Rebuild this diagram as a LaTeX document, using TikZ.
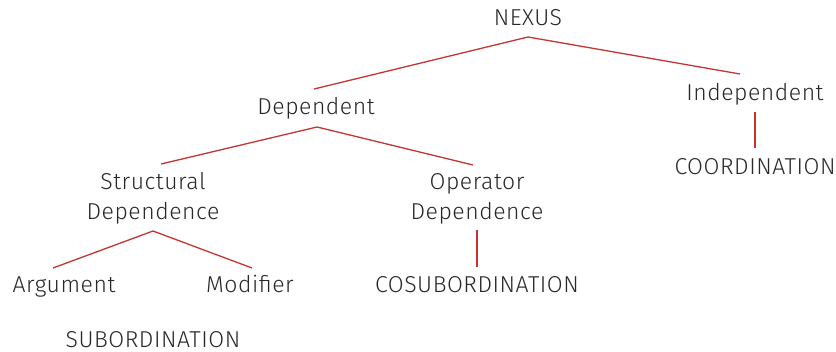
\documentclass[tikz,border=0pt]{standalone}
\usepackage{fontspec}
\setmainfont[LetterSpace=2.3]{Fira Sans Light}
\usetikzlibrary{calc}

\definecolor{linkred}{RGB}{196,52,48}
\definecolor{labelgray}{RGB}{40,40,40}

\tikzset{
  label/.style={font=\fontsize{23}{30}\selectfont,text=labelgray,inner sep=0pt,anchor=base,align=center},
  link/.style={draw=linkred,line width=1.3pt}
}

\begin{document}
\begin{tikzpicture}[x=1pt,y=-1pt]
\useasboundingbox (0,0) rectangle (836,352);
% levels of the tree
\node[label] (nexus) at (528,26) {NEXUS};
\node[label] (dep) at (316,115) {Dependent};
\node[label] (indep) at (755,101) {Independent};
\node[label] (coord) at (755,175) {COORDINATION};
\node[label] (struct) at (153,220) {Structural\\Dependence};
\node[label] (oper) at (477,220) {Operator\\Dependence};
\node[label] (cosub) at (477,293) {COSUBORDINATION};
\node[label] (arg) at (64,293) {Argument};
\node[label] (mod) at (250,293) {Modifier};
\node[label] (subord) at (153,348) {SUBORDINATION};

% branches
\draw[link] ($(nexus.base)+(0,11)$) -- ($(dep.base)+(-2,-26)$);
\draw[link] ($(nexus.base)+(0,11)$) -- ($(indep.base)+(-15,-27)$);
\draw[link] ($(indep.base)+(0,11)$) -- ($(coord.base)+(0,-27)$);
\draw[link] ($(dep.base)+(1,12)$) -- ($(struct.base)+(8,-56)$);
\draw[link] ($(dep.base)+(1,12)$) -- ($(oper.base)+(-4,-55)$);
\draw[link] ($(oper.base)+(0,10)$) -- ($(cosub.base)+(0,-26)$);
\draw[link] ($(struct.base)+(0,11)$) -- ($(arg.base)+(-11,-25)$);
\draw[link] ($(struct.base)+(0,11)$) -- ($(mod.base)+(2,-25)$);
\end{tikzpicture}
\end{document}
